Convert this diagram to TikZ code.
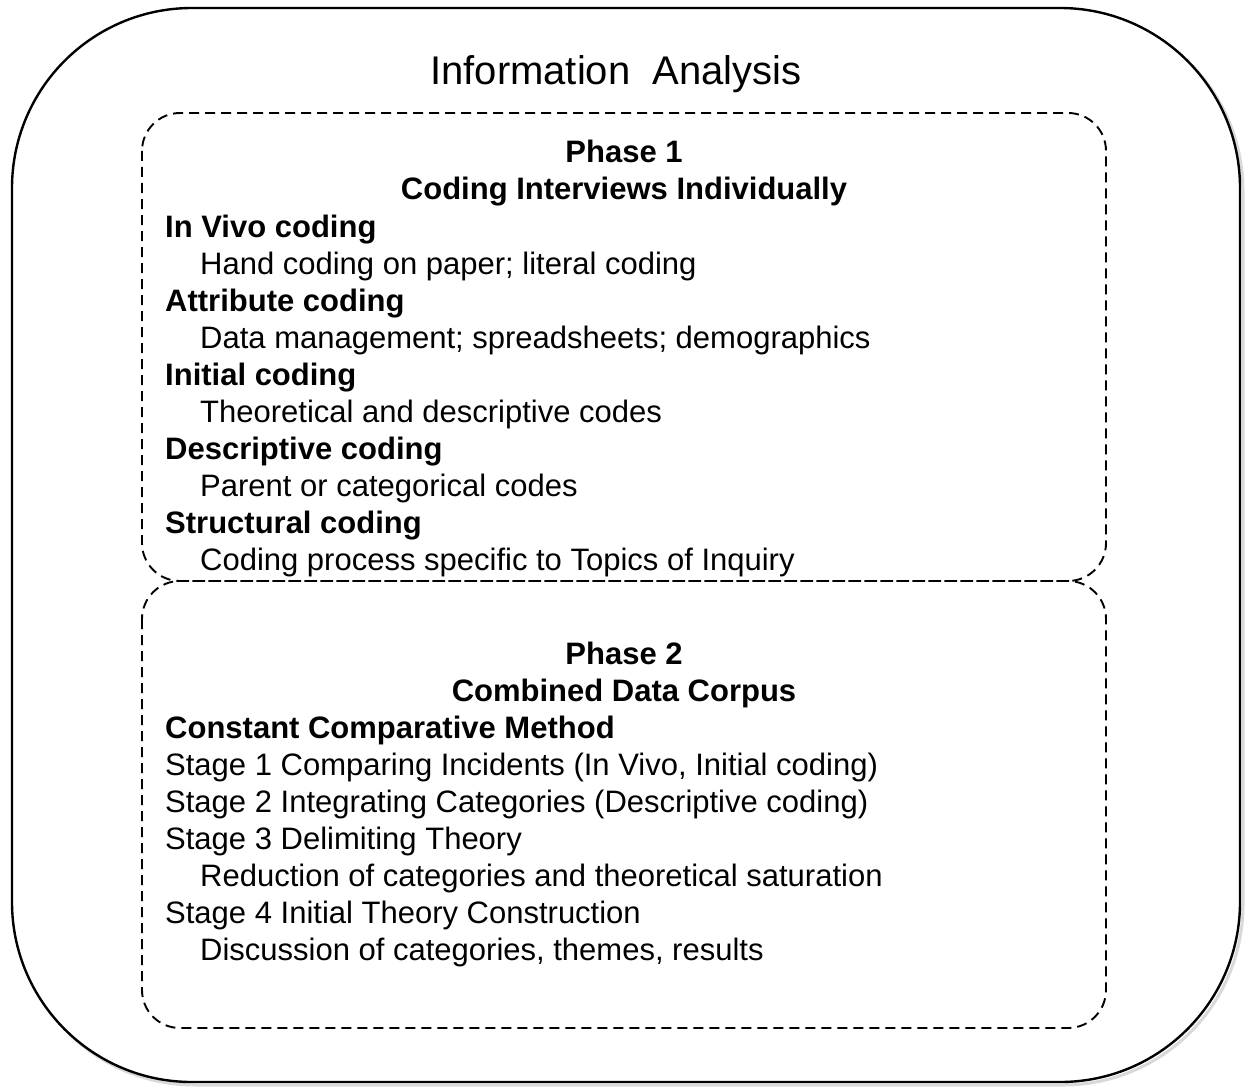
\documentclass[tikz,border=0pt]{standalone}
\usepackage{fontspec}
\setmainfont{Liberation Sans}
\begin{document}
\begin{tikzpicture}[x=1pt,y=-1pt,
  outerbox/.style={line width=2.4pt},
  phasebox/.style={line width=1.9pt, dash pattern=on 10pt off 6pt, rounded corners=38pt},
  title/.style={font=\fontsize{40}{48}\selectfont, inner sep=0pt, anchor=base},
  head/.style={font=\fontsize{31}{37}\selectfont\bfseries, inner sep=0pt, anchor=base},
  itemhead/.style={font=\fontsize{31}{37}\selectfont\bfseries, inner sep=0pt, anchor=base west},
  itemtext/.style={font=\fontsize{31}{37}\selectfont, inner sep=0pt, anchor=base west}]
\useasboundingbox (0,0) rectangle (1249,1086);
% outer frame with faint shadow
\def\outerpath{(12,188) -- (12,902) arc[start angle=180, end angle=270, radius=180pt]
  -- (1060,1082) arc[start angle=270, end angle=360, radius=180pt]
  -- (1240,188) arc[start angle=0, end angle=90, radius=180pt]
  -- (192,8) arc[start angle=90, end angle=180, radius=180pt] -- cycle}
\begin{scope}[shift={(3,3)}]
\draw[draw=black!15, line width=3pt] \outerpath;
\end{scope}
\draw[outerbox, fill=white] \outerpath;
% phase boxes
\draw[phasebox] (142,113) rectangle (1106,581);
\draw[phasebox] (142,581) rectangle (1106,1028);
% title
\node[title] (t) at (616,85) {Information\ \ Analysis};
% phase 1
\node[head] (p1) at (624,163) {Phase 1};
\node[head] (p1s) at (624,200) {Coding Interviews Individually};
\node[itemhead] (a1) at (165,237) {In Vivo coding};
\node[itemtext] (a2) at (200,274) {Hand coding on paper; literal coding};
\node[itemhead] (b1) at (165,311) {Attribute coding};
\node[itemtext] (b2) at (200,348) {Data management; spreadsheets; demographics};
\node[itemhead] (c1) at (165,385) {Initial coding};
\node[itemtext] (c2) at (200,422) {Theoretical and descriptive codes};
\node[itemhead] (d1) at (165,459) {Descriptive coding};
\node[itemtext] (d2) at (200,496) {Parent or categorical codes};
\node[itemhead] (e1) at (165,533) {Structural coding};
\node[itemtext] (e2) at (200,570) {Coding process specific to Topics of Inquiry};
% phase 2
\node[head] (p2) at (624,664) {Phase 2};
\node[head] (p2s) at (624,701) {Combined Data Corpus};
\node[itemhead] (f1) at (165,738) {Constant Comparative Method};
\node[itemtext] (f2) at (165,775) {Stage 1 Comparing Incidents (In Vivo, Initial coding)};
\node[itemtext] (f3) at (165,812) {Stage 2 Integrating Categories (Descriptive coding)};
\node[itemtext] (f4) at (165,849) {Stage 3 Delimiting Theory};
\node[itemtext] (f5) at (200,886) {Reduction of categories and theoretical saturation};
\node[itemtext] (f6) at (165,923) {Stage 4 Initial Theory Construction};
\node[itemtext] (f7) at (200,960) {Discussion of categories, themes, results};
\end{tikzpicture}
\end{document}
